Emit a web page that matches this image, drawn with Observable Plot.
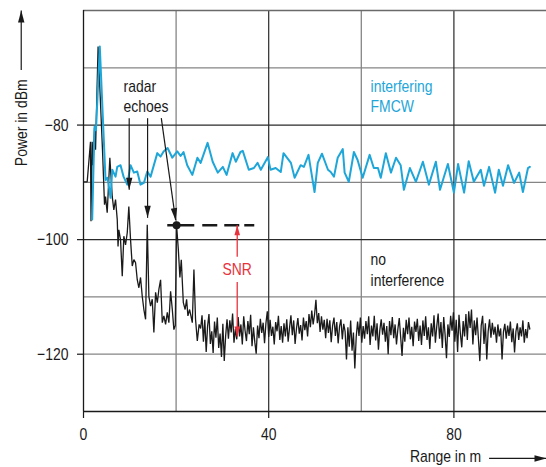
<!DOCTYPE html>
<html>
<head>
<meta charset="utf-8">
<script src="https://cdn.jsdelivr.net/npm/d3@7"></script>
<script src="https://cdn.jsdelivr.net/npm/@observablehq/plot@0.6"></script>
<style>
  html, body { margin: 0; padding: 0; background: #fff; }
  #chart { width: 546px; height: 467px; overflow: hidden; }
</style>
</head>
<body>
<div id="chart"></div>
<script>
// ---------- data ----------
// no interference (black), near range: explicit samples
const blackX = [0.06,0.8,1.51,1.62,1.88,2.05,2.38,2.6,3.15,4.1,4.54,4.76,5.12,5.69,6.21,6.55,6.92,7.29,7.46,7.63,8.0,8.37,8.71,9.08,9.45,9.79,10.16,10.53,10.88,11.24,11.61,11.96,12.32,12.69,13.04,13.41,13.77,14.12,14.49,14.85,15.2,15.57,15.94,16.28,16.65,17.02,17.36,17.73,18.1,18.44,18.81,19.18,19.52,19.82,20.1,20.48,20.82,21.12,21.56,21.95,22.27,22.55,22.92,23.5,23.85,24.2,24.58,24.97];
const blackY = [-89.9,-89.9,-82.9,-96.8,-82.9,-87.0,-80.5,-84.3,-66.3,-84.3,-93.9,-92.5,-95.3,-85.7,-92.5,-94.8,-93.0,-96.5,-101.2,-98.3,-100,-106.4,-99.4,-100.9,-98.8,-94.2,-100,-104.6,-103.5,-104,-107,-108.4,-106.6,-109.9,-112.2,-113.9,-97.4,-109.9,-111.6,-110.4,-116.2,-109.2,-111,-108.7,-107,-114.5,-113.3,-114.8,-112.7,-114.5,-109,-112.2,-115.7,-115,-97.5,-101.7,-106.6,-103.5,-111,-112.2,-110.4,-113.3,-112.2,-114.5,-105.2,-113.9,-117.7,-114.8];
// no interference (black), noise floor sampled every 0.3 m from 25.3 m
const noiseStart = 25.3;
const noiseStep = 0.3;
const noiseY = [
-115.5,-113.2,-117.8,-114.0,-119.6,-115.1,-113.0,-118.2,-116.0,-119.8,
-114.3,-117.1,-113.6,-118.9,-116.4,-120.5,-114.7,-121.2,-116.8,-113.9,
-117.3,-114.1,-116.2,-112.9,-118.0,-115.6,-117.4,-113.5,-116.9,-114.8,
-118.3,-113.4,-115.9,-117.7,-114.2,-116.5,-113.1,-118.6,-115.3,-117.9,
-119.9,-115.0,-117.2,-113.8,-116.3,-114.5,-118.1,-114.6,-112.5,-117.0,
-114.0,-116.8,-115.2,-118.3,-114.4,-116.0,-113.3,-117.5,-115.1,-118.0,
-114.6,-116.9,-113.9,-117.8,-115.4,-113.2,-116.7,-114.1,-118.2,-115.5,
-113.7,-116.4,-114.9,-117.6,-113.6,-115.8,-114.2,-116.9,-113.0,-115.3,
-112.4,-114.8,-113.1,-110.5,-114.6,-112.8,-116.1,-113.4,-115.7,-114.0,
-117.2,-113.8,-116.3,-114.1,-117.9,-115.0,-113.6,-116.8,-114.4,-118.1,
-115.2,-113.9,-117.4,-114.7,-116.0,-120.9,-115.3,-118.7,-114.1,-119.4,
-116.2,-122.5,-117.0,-114.3,-116.8,-113.6,-118.0,-115.1,-117.3,-114.2,
-116.5,-113.4,-118.4,-115.0,-116.9,-113.3,-117.6,-114.6,-119.2,-115.8,
-113.9,-116.6,-114.5,-117.8,-115.1,-120.0,-114.2,-116.7,-113.5,-117.2,
-114.8,-118.3,-115.6,-113.7,-117.0,-120.3,-115.4,-117.8,-114.0,-116.5,
-113.6,-117.4,-115.2,-118.6,-114.3,-116.1,-113.8,-117.7,-115.0,-118.4,
-114.1,-116.8,-113.4,-117.5,-115.3,-119.1,-114.6,-116.9,-113.2,-118.0,
-115.1,-112.9,-117.3,-114.4,-118.9,-113.5,-116.6,-120.7,-114.8,-117.0,
-113.3,-115.9,-112.7,-117.8,-114.0,-119.6,-113.1,-116.4,-118.8,-114.2,
-116.9,-113.0,-117.5,-112.5,-115.4,-112.2,-118.3,-114.1,-116.7,-113.6,
-117.4,-121.2,-115.0,-113.3,-118.2,-114.6,-120.9,-116.0,-113.9,-117.1,
-114.5,-116.6,-115.2,-118.0,-114.8,-116.9,-115.5,-120.9,-116.1,-114.7,
-117.3,-115.0,-116.8,-114.3,-117.9,-115.5,-119.7,-116.0,-114.6,-117.5,
-115.3,-116.9,-114.1,-118.0,-115.6,-117.2,-114.4,-115.6
];
// interfering FMCW (blue)
const blueX = [1.88,2.38,2.7,3.52,4.76,5.19,5.84,6.21,6.92,7.29,8.0,8.65,9.45,10.16,10.88,11.61,12.32,13.04,13.77,14.49,15.94,16.65,17.3,18.16,19.18,20.26,20.97,21.6,22.4,23.5,24.6,25.3,26.8,27.9,29.0,30.1,30.9,32.2,32.9,33.9,34.4,35.7,36.8,37.6,38.3,39.8,40.4,41.5,42.6,43.2,44.8,45.6,46.9,47.6,48.6,49.9,50.6,51.5,52.8,53.4,54.1,54.9,56.0,56.4,57.3,58.4,59.2,60.3,61.8,62.7,63.6,64.2,65.3,66.4,67.5,68.5,69.2,70.5,71.8,73.3,74.6,76.1,77.0,78.7,80.0,80.9,82.2,83.2,84.3,85.8,86.5,87.6,88.9,89.7,90.6,91.7,93.0,94.1,94.9,96.0,96.4];
const blueY = [-96.5,-80.3,-80.9,-66.3,-89.6,-89.2,-92.7,-87.8,-89.0,-87.3,-87.0,-89.0,-90.4,-87.0,-88.3,-88.1,-90.4,-90.1,-88.1,-89.0,-84.9,-85.5,-84.6,-84.0,-85.7,-84.6,-85.4,-84.7,-87.0,-88.7,-85.7,-86.6,-83.1,-86.4,-88.3,-87.3,-88.7,-84.9,-86.4,-84.7,-84.5,-87.8,-87.5,-86.6,-87.8,-85.6,-87.8,-87.5,-88.2,-84.9,-86.6,-89.2,-87.0,-87.3,-85.2,-91.7,-86.6,-85.0,-87.8,-88.2,-89.0,-85.7,-84.2,-88.3,-89.9,-84.7,-86.1,-89.2,-85.2,-87.5,-87.5,-89.2,-84.9,-88.3,-85.7,-87.0,-91.3,-87.5,-89.9,-86.4,-90.4,-86.4,-91.3,-86.8,-91.8,-86.8,-91.8,-86.3,-89.9,-87.8,-90.6,-87.3,-91.8,-87.8,-90.6,-87.0,-90.1,-88.3,-91.7,-87.5,-87.3];

// axes
const xDomain = [0, 100];
const yDomain = [-130, -60];
const xTickLabels = [0, 40, 80];
const yTickLabels = [-80, -100, -120];
const xGridMajor = [40, 80];
const xGridMinor = [20, 60];
const yGridMajor = [-80, -100];
const yGridMinor = [-70, -90, -110, -120];

// annotations
const echoFromX = [9.87, 13.84, 16.8];
const echoFromY = [-78.8, -78.8, -78.8];
const echoToX = [9.87, 13.84, 19.9];
const echoToY = [-91.3, -96.2, -96.6];
const echoHeadRotate = [0, 0, -8];
const echoLabel = ["radar", "echoes"];
const echoLabelX = [8.65, 8.65];
const echoLabelY = [-73.3, -76.8];
const fmcwLabel = ["interfering", "FMCW"];
const fmcwLabelX = [62.0, 62.0];
const fmcwLabelY = [-73.3, -76.8];
const quietLabel = ["no", "interference"];
const quietLabelX = [62.0, 62.0];
const quietLabelY = [-103.4, -107.1];
const echoPeak = {x: 20.1, y: -97.5};
const peakLevel = {x1: 18.2, x2: 37.2, y: -97.5};
const snr = {x: 33.2, top: -97.5, textY: -105.3, gapTop: -103.0, gapBottom: -107.4, bottom: -116.9, label: "SNR"};
const yTitle = {text: "Power in dBm", x: -13.45, y: -79.6};
const xTitle = {text: "Range in m", x: 70.5, y: -137.85};
const yTitleArrow = {x: -13.45, y1: -70.4, y2: -60};
const xTitleArrow = {x1: 87.6, x2: 100, y: -138.2};

// ---------- build tables ----------
const black = blackX.map((x, i) => ({x, y: blackY[i]}))
  .concat(noiseY.map((y, i) => ({x: +(noiseStart + i * noiseStep).toFixed(2), y})));
const blue = blueX.map((x, i) => ({x, y: blueY[i]}));
const echoArrows = echoFromX.map((x1, i) => ({x1, y1: echoFromY[i], x2: echoToX[i], y2: echoToY[i], r: echoHeadRotate[i]}));
const textRows = (labels, xs, ys) => labels.map((t, i) => ({t, x: xs[i], y: ys[i]}));

const BLUE = "#1ea6d9";
const RED = "#e8323c";
const INK = "#1a1a1a";
const FONT = '"Liberation Sans", Arial, sans-serif';
const NARROW = 0.82; // condensed typeface look

const head = {draw(ctx) { ctx.moveTo(0, 0); ctx.lineTo(-3.2, -12); ctx.lineTo(3.2, -12); ctx.closePath(); }};
const headSmall = {draw(ctx) { ctx.moveTo(0, 0); ctx.lineTo(-2.8, -10); ctx.lineTo(2.8, -10); ctx.closePath(); }};

const chart = Plot.plot({
  width: 546,
  height: 467,
  marginLeft: 83,
  marginTop: 10,
  marginRight: 0,
  marginBottom: 56,
  x: {domain: xDomain},
  y: {domain: yDomain},
  style: {fontFamily: FONT, fontSize: "17px", color: INK, background: "#fff", overflow: "visible"},
  marks: [
    Plot.gridX(xGridMinor, {stroke: "#858585", strokeOpacity: 1, strokeWidth: 1.3}),
    Plot.gridY(yGridMinor, {stroke: "#858585", strokeOpacity: 1, strokeWidth: 1.3}),
    Plot.gridX(xGridMajor, {stroke: "#2a2a2a", strokeOpacity: 1, strokeWidth: 1.2}),
    Plot.gridY(yGridMajor, {stroke: "#2a2a2a", strokeOpacity: 1, strokeWidth: 1.2}),
    Plot.ruleY([yDomain[1]], {stroke: "#6a6a6a", strokeWidth: 1.3}),
    Plot.ruleY([yDomain[0]], {stroke: INK, strokeWidth: 1.3}),
    Plot.ruleX([xDomain[0]], {stroke: INK, strokeWidth: 1.3}),
    Plot.axisX(xTickLabels, {tickSize: 7, tickPadding: 9, label: null, strokeWidth: 1.2}),
    Plot.axisY(yTickLabels, {tickSize: 6, tickPadding: 9, label: null, strokeWidth: 1.2}),

    // data
    Plot.line(black, {x: "x", y: "y", stroke: INK, strokeWidth: 1.3, strokeLinejoin: "miter"}),
    Plot.line(blue, {x: "x", y: "y", stroke: BLUE, strokeWidth: 2}),

    // radar echoes annotation
    Plot.link(echoArrows, {x1: "x1", y1: "y1", x2: "x2", y2: "y2", stroke: INK, strokeWidth: 1.2}),
    Plot.dot(echoArrows, {x: "x2", y: "y2", symbol: head, rotate: "r", fill: INK, stroke: "none"}),
    Plot.text(textRows(echoLabel, echoLabelX, echoLabelY), {x: "x", y: "y", text: "t", textAnchor: "start", fill: INK, fontSize: 17}),

    // SNR level
    Plot.ruleY([peakLevel], {x1: "x1", x2: "x2", y: "y", stroke: INK, strokeWidth: 2.6, strokeDasharray: "27,8,15,7,15,5,10"}),
    Plot.dot([echoPeak], {x: "x", y: "y", r: 4, fill: INK, stroke: "none"}),
    Plot.link([snr], {x1: "x", x2: "x", y1: "top", y2: "gapTop", stroke: RED, strokeWidth: 1.3}),
    Plot.link([snr], {x1: "x", x2: "x", y1: "gapBottom", y2: "bottom", stroke: RED, strokeWidth: 1.3}),
    Plot.dot([snr], {x: "x", y: "top", symbol: headSmall, rotate: 180, fill: RED, stroke: "none"}),
    Plot.dot([snr], {x: "x", y: "bottom", symbol: headSmall, rotate: 0, fill: RED, stroke: "none"}),
    Plot.text([snr], {x: "x", y: "textY", text: "label", fill: RED, fontSize: 17}),

    // series labels
    Plot.text(textRows(fmcwLabel, fmcwLabelX, fmcwLabelY), {x: "x", y: "y", text: "t", textAnchor: "start", fill: BLUE, fontSize: 17}),
    Plot.text(textRows(quietLabel, quietLabelX, quietLabelY), {x: "x", y: "y", text: "t", textAnchor: "start", fill: INK, fontSize: 17}),

    // axis titles with arrows
    Plot.text([yTitle], {x: "x", y: "y", text: "text", rotate: -90, fill: INK, fontSize: 17}),
    Plot.link([yTitleArrow], {x1: "x", x2: "x", y1: "y1", y2: "y2", stroke: INK, strokeWidth: 1.2}),
    Plot.dot([yTitleArrow], {x: "x", y: "y2", symbol: head, rotate: 180, fill: INK, stroke: "none"}),
    Plot.text([xTitle], {x: "x", y: "y", text: "text", textAnchor: "start", fill: INK, fontSize: 17}),
    Plot.link([xTitleArrow], {x1: "x1", x2: "x2", y1: "y", y2: "y", stroke: INK, strokeWidth: 1.2}),
    Plot.dot([xTitleArrow], {x: "x2", y: "y", symbol: head, rotate: -90, fill: INK, stroke: "none"})
  ]
});
document.getElementById("chart").appendChild(chart);
// condense all labels horizontally (narrow grotesque look of the original)
chart.querySelectorAll("text").forEach((t) => {
  const len = t.getComputedTextLength();
  if (len > 0) {
    t.setAttribute("textLength", (len * NARROW).toFixed(1));
    t.setAttribute("lengthAdjust", "spacingAndGlyphs");
  }
});
</script>
</body>
</html>
